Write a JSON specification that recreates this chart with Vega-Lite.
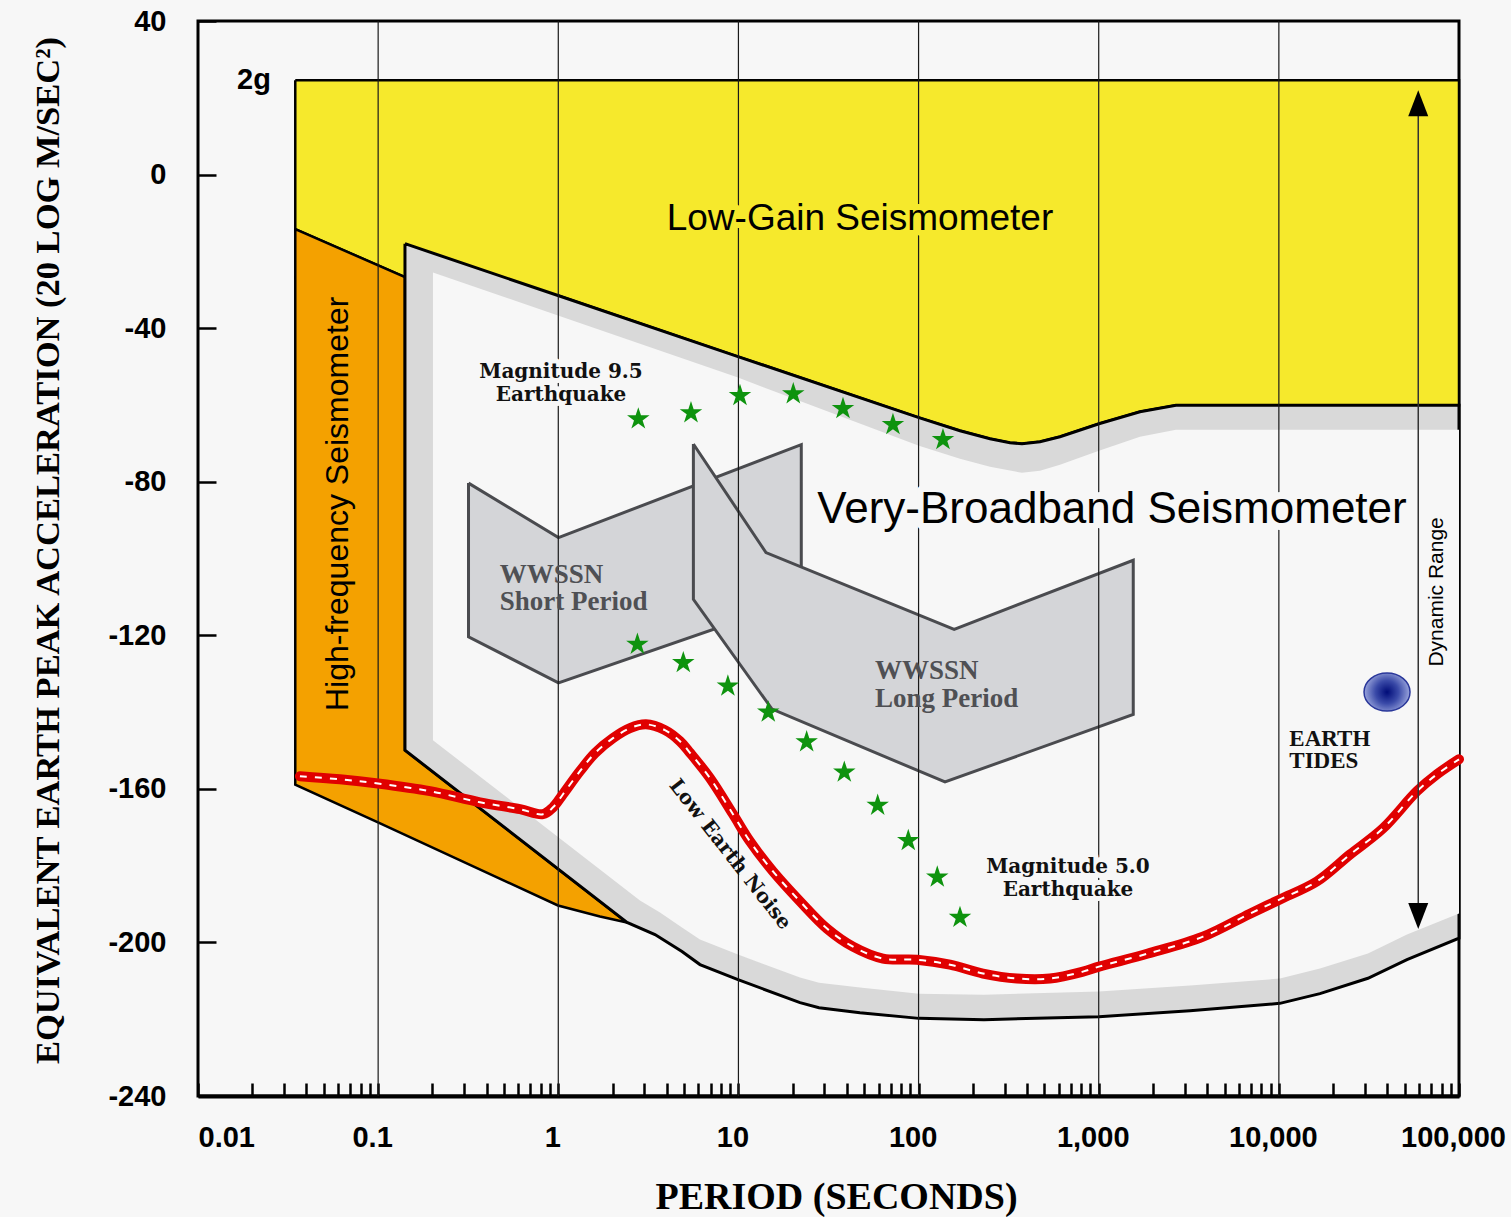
{
"$schema": "https://vega.github.io/schema/vega-lite/v6.json",
"width": 1261, "height": 1075,
"autosize": {"type": "none"},
"padding": {"left": 198, "top": 21, "right": 52, "bottom": 121},
"background": "#f7f7f7",
"config": {"view": {"stroke": "black", "strokeWidth": 3, "fill": "#f7f7f7"}},
"datasets": {
"poly": [
{"s":"yellow","i":0,"x":0.03467,"y":24.6},{"s":"yellow","i":1,"x":100000,"y":24.6},{"s":"yellow","i":2,"x":100000,"y":-60.06},{"s":"yellow","i":3,"x":2685,"y":-60.06},{"s":"yellow","i":4,"x":1694,"y":-61.76},{"s":"yellow","i":5,"x":1003,"y":-64.89},{"s":"yellow","i":6,"x":609.5,"y":-68.28},{"s":"yellow","i":7,"x":472.1,"y":-69.58},{"s":"yellow","i":8,"x":375,"y":-70.1},{"s":"yellow","i":9,"x":321.7,"y":-69.84},{"s":"yellow","i":10,"x":249.2,"y":-68.8},{"s":"yellow","i":11,"x":169.8,"y":-66.71},{"s":"yellow","i":12,"x":100.5,"y":-63.32},{"s":"yellow","i":13,"x":9.945,"y":-47.41},{"s":"yellow","i":14,"x":0.9963,"y":-31.49},{"s":"yellow","i":15,"x":0.1409,"y":-26.72},{"s":"yellow","i":16,"x":0.03467,"y":-14.19},{"s":"yellow","i":17,"x":0.03467,"y":24.6},
{"s":"orange","i":0,"x":0.03467,"y":-14.19},{"s":"orange","i":1,"x":0.1409,"y":-26.72},{"s":"orange","i":2,"x":0.1409,"y":-149.94},{"s":"orange","i":3,"x":2.407,"y":-194.81},{"s":"orange","i":4,"x":1.704,"y":-193.24},{"s":"orange","i":5,"x":0.9963,"y":-190.38},{"s":"orange","i":6,"x":0.0998,"y":-168.72},{"s":"orange","i":7,"x":0.03467,"y":-158.89},{"s":"orange","i":8,"x":0.03467,"y":-14.19},
{"s":"vbb","i":0,"x":0.1409,"y":-18.0},{"s":"vbb","i":1,"x":0.9963,"y":-31.49},{"s":"vbb","i":2,"x":9.945,"y":-47.41},{"s":"vbb","i":3,"x":100.5,"y":-63.32},{"s":"vbb","i":4,"x":169.8,"y":-66.71},{"s":"vbb","i":5,"x":249.2,"y":-68.8},{"s":"vbb","i":6,"x":321.7,"y":-69.84},{"s":"vbb","i":7,"x":375,"y":-70.1},{"s":"vbb","i":8,"x":472.1,"y":-69.58},{"s":"vbb","i":9,"x":609.5,"y":-68.28},{"s":"vbb","i":10,"x":1003,"y":-64.89},{"s":"vbb","i":11,"x":1694,"y":-61.76},{"s":"vbb","i":12,"x":2685,"y":-60.06},{"s":"vbb","i":13,"x":100000,"y":-60.06},{"s":"vbb","i":14,"x":100000,"y":-198.9},{"s":"vbb","i":15,"x":51430,"y":-204.46},{"s":"vbb","i":16,"x":31230,"y":-209.34},{"s":"vbb","i":17,"x":16910,"y":-213.34},{"s":"vbb","i":18,"x":10140,"y":-215.87},{"s":"vbb","i":19,"x":3211,"y":-217.77},{"s":"vbb","i":20,"x":1003,"y":-219.34},{"s":"vbb","i":21,"x":230.7,"y":-220.12},{"s":"vbb","i":22,"x":100.5,"y":-219.78},{"s":"vbb","i":23,"x":47.29,"y":-218.29},{"s":"vbb","i":24,"x":28.01,"y":-216.99},{"s":"vbb","i":25,"x":21.97,"y":-215.68},{"s":"vbb","i":26,"x":9.945,"y":-209.69},{"s":"vbb","i":27,"x":6.117,"y":-205.77},{"s":"vbb","i":28,"x":4.861,"y":-202.38},{"s":"vbb","i":29,"x":3.442,"y":-197.94},{"s":"vbb","i":30,"x":2.407,"y":-194.81},{"s":"vbb","i":31,"x":0.1409,"y":-149.94},{"s":"vbb","i":32,"x":0.1409,"y":-18.0},
{"s":"inner","i":0,"x":0.2015,"y":-25.49},{"s":"inner","i":1,"x":0.9963,"y":-36.71},{"s":"inner","i":2,"x":9.945,"y":-52.88},{"s":"inner","i":3,"x":100.5,"y":-70.62},{"s":"inner","i":4,"x":169.8,"y":-74.02},{"s":"inner","i":5,"x":249.2,"y":-76.1},{"s":"inner","i":6,"x":375,"y":-77.67},{"s":"inner","i":7,"x":472.1,"y":-77.15},{"s":"inner","i":8,"x":609.5,"y":-75.58},{"s":"inner","i":9,"x":1003,"y":-71.93},{"s":"inner","i":10,"x":1694,"y":-68.28},{"s":"inner","i":11,"x":2685,"y":-66.45},{"s":"inner","i":12,"x":100000,"y":-66.45},{"s":"inner","i":13,"x":100000,"y":-192.46},{"s":"inner","i":14,"x":51430,"y":-197.94},{"s":"inner","i":15,"x":31230,"y":-202.9},{"s":"inner","i":16,"x":16910,"y":-206.81},{"s":"inner","i":17,"x":10140,"y":-209.42},{"s":"inner","i":18,"x":3211,"y":-211.25},{"s":"inner","i":19,"x":1003,"y":-212.81},{"s":"inner","i":20,"x":230.7,"y":-213.6},{"s":"inner","i":21,"x":100.5,"y":-213.34},{"s":"inner","i":22,"x":47.29,"y":-211.77},{"s":"inner","i":23,"x":28.01,"y":-210.47},{"s":"inner","i":24,"x":21.97,"y":-209.16},{"s":"inner","i":25,"x":9.945,"y":-203.16},{"s":"inner","i":26,"x":6.117,"y":-199.25},{"s":"inner","i":27,"x":4.861,"y":-196.12},{"s":"inner","i":28,"x":3.67,"y":-192.2},{"s":"inner","i":29,"x":2.841,"y":-189.07},{"s":"inner","i":30,"x":0.2015,"y":-147.33},{"s":"inner","i":31,"x":0.2015,"y":-25.49},
{"s":"short","i":0,"x":0.3174,"y":-80.36},{"s":"short","i":1,"x":1.0025,"y":-94.55},{"s":"short","i":2,"x":22.33,"y":-70.36},{"s":"short","i":3,"x":22.33,"y":-110.54},{"s":"short","i":4,"x":1.0025,"y":-132.38},{"s":"short","i":5,"x":0.3174,"y":-120.38},{"s":"short","i":6,"x":0.3174,"y":-80.36},
{"s":"long","i":0,"x":5.623,"y":-70.18},{"s":"long","i":1,"x":14.22,"y":-98.46},{"s":"long","i":2,"x":157.6,"y":-118.45},{"s":"long","i":3,"x":1555,"y":-100.45},{"s":"long","i":4,"x":1555,"y":-140.62},{"s":"long","i":5,"x":140.2,"y":-158.21},{"s":"long","i":6,"x":15.36,"y":-139.24},{"s":"long","i":7,"x":5.623,"y":-110.62},{"s":"long","i":8,"x":5.623,"y":-70.18}
],
"noise": [
{"x":0.0368,"y":-156.7},{"x":0.0614,"y":-157.5},{"x":0.0998,"y":-158.6},{"x":0.194,"y":-160.6},{"x":0.3675,"y":-163.5},{"x":0.613,"y":-165.3},{"x":0.822,"y":-166.6},{"x":0.935,"y":-164.8},{"x":1.062,"y":-161.4},{"x":1.319,"y":-155.4},{"x":1.599,"y":-150.7},{"x":2.012,"y":-146.8},{"x":2.5,"y":-144.2},{"x":3.068,"y":-143.2},{"x":3.91,"y":-144.7},{"x":4.738,"y":-147.6},{"x":5.384,"y":-150.6},{"x":6.953,"y":-157.2},{"x":9.329,"y":-166.6},{"x":11.59,"y":-173.7},{"x":15.55,"y":-181.5},{"x":21.97,"y":-189.3},{"x":31.02,"y":-196.4},{"x":43.23,"y":-201.1},{"x":63.45,"y":-204.2},{"x":97.99,"y":-204.5},{"x":149.4,"y":-205.8},{"x":227.8,"y":-208.1},{"x":351.8,"y":-209.4},{"x":536.3,"y":-209.4},{"x":817.6,"y":-207.6},{"x":1003,"y":-206.3},{"x":1877,"y":-202.9},{"x":3792,"y":-198.5},{"x":6914,"y":-192.5},{"x":10140,"y":-188.8},{"x":16280,"y":-184.1},{"x":24820,"y":-177.1},{"x":37840,"y":-170.3},{"x":58440,"y":-160.6},{"x":75480,"y":-156.2},{"x":100000,"y":-152.3}
],
"stars": [
{"x":2.781,"y":-63.66},{"x":5.453,"y":-62.09},{"x":10.2,"y":-57.58},{"x":20.16,"y":-57.14},{"x":38.06,"y":-60.97},{"x":72.07,"y":-65.14},{"x":136.6,"y":-69.06},
{"x":2.749,"y":-122.36},{"x":4.943,"y":-127.16},{"x":8.739,"y":-133.24},{"x":14.64,"y":-140.02},{"x":23.92,"y":-147.77},{"x":38.7,"y":-155.68},{"x":59.29,"y":-164.29},{"x":87.68,"y":-173.49},{"x":127.0,"y":-182.99},{"x":169.8,"y":-193.51}
],
"mag": [
{"t":"Magnitude 9.5\nEarthquake","x":1.035,"y":-52.96},
{"t":"Magnitude 5.0\nEarthquake","x":675,"y":-181.95}
],
"lowgain": [{"t":"Low-Gain Seismometer","x":47.29,"y":-14.4}],
"vbbtext": [{"t":"Very-Broadband Seismometer","x":1185,"y":-90.71}]
},
"encoding": {
"x": {"field": "x", "type": "quantitative",
 "scale": {"type": "log", "domain": [0.01, 100000], "nice": false},
 "axis": {
  "title": "PERIOD (SECONDS)", "titleFont": "Liberation Serif", "titleFontSize": 38, "titleFontWeight": "bold", "titleColor": "black",
  "titleX": 638, "titleY": 112, "titleAlign": "center", "titleBaseline": "alphabetic",
  "values": [0.01,0.02,0.03,0.04,0.05,0.06,0.07,0.08,0.09,0.1,0.2,0.3,0.4,0.5,0.6,0.7,0.8,0.9,1,2,3,4,5,6,7,8,9,10,20,30,40,50,60,70,80,90,100,200,300,400,500,600,700,800,900,1000,2000,3000,4000,5000,6000,7000,8000,9000,10000,20000,30000,40000,50000,60000,70000,80000,90000,100000],
  "labelExpr": "abs(log(datum.value)/LN10 - round(log(datum.value)/LN10)) < 0.01 ? format(datum.value, ',') : ''",
  "labelFont": "Liberation Sans", "labelFontSize": 29, "labelFontWeight": "bold", "labelColor": "black",
  "labelBaseline": "alphabetic", "labelPadding": 63, "labelFlush": false, "labelOverlap": false,
  "labelAlign": {"condition": {"test": "datum.value < 0.015", "value": "left"}, "value": "center"},
  "labelOffset": {"condition": {"test": "datum.value < 0.015", "value": 0}, "value": -6},
  "tickSize": -13, "tickWidth": 2.5, "tickColor": "black",
  "domain": true, "domainColor": "black", "domainWidth": 4, "grid": false
 }},
"y": {"field": "y", "type": "quantitative",
 "scale": {"domain": [-240, 40], "nice": false, "zero": false},
 "axis": {
  "title": "EQUIVALENT EARTH PEAK ACCELERATION (20 LOG M/SEC²)", "titleFont": "Liberation Serif", "titleFontSize": 34.5, "titleFontWeight": "bold", "titleColor": "black",
  "titleAngle": 270, "titleX": -150, "titleY": 529, "titleAlign": "center", "titleBaseline": "middle",
  "values": [40,0,-40,-80,-120,-160,-200,-240],
  "labelExpr": "datum.value + ''",
  "labelFont": "Liberation Sans", "labelFontSize": 29, "labelFontWeight": "bold", "labelColor": "black",
  "labelPadding": 50, "labelAlign": "right", "labelBaseline": "middle", "labelOverlap": false,
  "tickSize": -18, "tickWidth": 2.5, "tickColor": "black", "domain": false, "grid": false
 }}
},
"layer": [
{"data": {"name": "poly"}, "transform": [{"filter": "datum.s == 'yellow'"}],
 "mark": {"type": "line", "fill": "#f6e92c", "stroke": "black", "strokeWidth": 2.5},
 "encoding": {"order": {"field": "i", "type": "quantitative"}}},
{"data": {"name": "poly"}, "transform": [{"filter": "datum.s == 'orange'"}],
 "mark": {"type": "line", "fill": "#f4a100", "stroke": "black", "strokeWidth": 2.5},
 "encoding": {"order": {"field": "i", "type": "quantitative"}}},
{"data": {"name": "poly"}, "transform": [{"filter": "datum.s == 'vbb'"}],
 "mark": {"type": "line", "fill": "#d9d9d9", "stroke": "black", "strokeWidth": 3},
 "encoding": {"order": {"field": "i", "type": "quantitative"}}},
{"data": {"name": "poly"}, "transform": [{"filter": "datum.s == 'inner'"}],
 "mark": {"type": "line", "fill": "#f7f7f7", "strokeWidth": 0},
 "encoding": {"order": {"field": "i", "type": "quantitative"}}},
{"data": {"name": "poly"}, "transform": [{"filter": "datum.s == 'short'"}],
 "mark": {"type": "line", "fill": "#d4d5d8", "stroke": "#4a4b4f", "strokeWidth": 3},
 "encoding": {"order": {"field": "i", "type": "quantitative"}}},
{"data": {"name": "poly"}, "transform": [{"filter": "datum.s == 'long'"}],
 "mark": {"type": "line", "fill": "#d4d5d8", "stroke": "#4a4b4f", "strokeWidth": 3},
 "encoding": {"order": {"field": "i", "type": "quantitative"}}},
{"data": {"values": [{"x":0.1,"y":40,"y2":-240},{"x":1,"y":40,"y2":-240},{"x":10,"y":40,"y2":-240},{"x":100,"y":40,"y2":-240},{"x":1000,"y":40,"y2":-240},{"x":10000,"y":40,"y2":-240}]},
 "mark": {"type": "rule", "stroke": "#1a1a1a", "strokeWidth": 1.2},
 "encoding": {"y2": {"field": "y2"}}},
{"data": {"name": "stars"},
 "mark": {"type": "point", "shape": "M0,-1L0.2245,-0.309L0.951,-0.309L0.363,0.118L0.588,0.809L0,0.382L-0.588,0.809L-0.363,0.118L-0.951,-0.309L-0.2245,-0.309Z", "size": 560, "filled": true, "fill": "#0e930e", "strokeWidth": 0, "opacity": 1}},
{"data": {"name": "noise"},
 "mark": {"type": "line", "stroke": "#e00000", "strokeWidth": 10, "strokeCap": "round", "interpolate": "catmull-rom"}},
{"data": {"name": "noise"},
 "mark": {"type": "line", "stroke": "white", "strokeWidth": 2, "strokeDash": [7, 8], "interpolate": "catmull-rom"}},
{"data": {"values": [{"x": 39850, "y": -134.8}]},
 "mark": {"type": "point", "shape": "M-1,0A1,0.826,0,1,1,1,0A1,0.826,0,1,1,-1,0Z", "size": 2116, "filled": true,
  "fill": {"gradient": "radial", "stops": [{"offset": 0, "color": "#000c78"}, {"offset": 0.5, "color": "#3a4aa8"}, {"offset": 1, "color": "#9aa5dc"}]},
  "stroke": "#2a379a", "strokeWidth": 1.5, "opacity": 1}},
{"data": {"values": [{"x": 59400, "y": 18.6, "y2": -193.1}]},
 "mark": {"type": "rule", "stroke": "#333333", "strokeWidth": 1.5},
 "encoding": {"y2": {"field": "y2"}}},
{"data": {"values": [{"x": 59400, "y": 18.6}]},
 "mark": {"type": "point", "shape": "M0,-1L0.77,1L-0.77,1Z", "size": 676, "filled": true, "fill": "black", "strokeWidth": 0, "opacity": 1}},
{"data": {"values": [{"x": 59400, "y": -193.1}]},
 "mark": {"type": "point", "shape": "M0,1L0.77,-1L-0.77,-1Z", "size": 676, "filled": true, "fill": "black", "strokeWidth": 0, "opacity": 1}},
{"data": {"name": "lowgain"},
 "mark": {"type": "text", "font": "Liberation Sans", "fontSize": 37, "align": "center", "baseline": "alphabetic", "fill": "#f6e92c", "stroke": "#f6e92c", "strokeWidth": 12, "strokeJoin": "round"},
 "encoding": {"text": {"field": "t"}}},
{"data": {"name": "lowgain"},
 "mark": {"type": "text", "font": "Liberation Sans", "fontSize": 37, "align": "center", "baseline": "alphabetic", "fill": "black"},
 "encoding": {"text": {"field": "t"}}},
{"data": {"name": "vbbtext"},
 "mark": {"type": "text", "font": "Liberation Sans", "fontSize": 44, "align": "center", "baseline": "alphabetic", "fill": "#f7f7f7", "stroke": "#f7f7f7", "strokeWidth": 14, "strokeJoin": "round"},
 "encoding": {"text": {"field": "t"}}},
{"data": {"name": "vbbtext"},
 "mark": {"type": "text", "font": "Liberation Sans", "fontSize": 44, "align": "center", "baseline": "alphabetic", "fill": "black"},
 "encoding": {"text": {"field": "t"}}},
{"data": {"name": "mag"},
 "mark": {"type": "text", "font": "DejaVu Serif", "fontSize": 20, "fontWeight": "bold", "align": "center", "baseline": "alphabetic", "lineBreak": "\n", "lineHeight": 23, "fill": "#f7f7f7", "stroke": "#f7f7f7", "strokeWidth": 10, "strokeJoin": "round"},
 "encoding": {"text": {"field": "t"}}},
{"data": {"name": "mag"},
 "mark": {"type": "text", "font": "DejaVu Serif", "fontSize": 20, "fontWeight": "bold", "align": "center", "baseline": "alphabetic", "lineBreak": "\n", "lineHeight": 23, "fill": "#111111"},
 "encoding": {"text": {"field": "t"}}},
{"data": {"values": [{"t": "2g", "x": 0.02047, "y": 22.18}]},
 "mark": {"type": "text", "font": "Liberation Sans", "fontSize": 29, "fontWeight": "bold", "align": "center", "baseline": "alphabetic", "fill": "black"},
 "encoding": {"text": {"field": "t"}}},
{"data": {"values": [{"t": "High-frequency Seismometer", "x": 0.05985, "y": -85.76}]},
 "mark": {"type": "text", "font": "Liberation Sans", "fontSize": 32, "angle": 270, "align": "center", "baseline": "middle", "fill": "black"},
 "encoding": {"text": {"field": "t"}}},
{"data": {"values": [{"t": "Dynamic Range", "x": 75480, "y": -108.7}]},
 "mark": {"type": "text", "font": "Liberation Sans", "fontSize": 21, "angle": 270, "align": "center", "baseline": "middle", "fill": "black"},
 "encoding": {"text": {"field": "t"}}},
{"data": {"values": [{"t": "WWSSN\nShort Period", "x": 0.4728, "y": -106.29}, {"t": "WWSSN\nLong Period", "x": 57.28, "y": -131.49}]},
 "mark": {"type": "text", "font": "Liberation Serif", "fontSize": 27, "fontWeight": "bold", "align": "left", "baseline": "alphabetic", "lineBreak": "\n", "lineHeight": 27.5, "fill": "#4f5054"},
 "encoding": {"text": {"field": "t"}}},
{"data": {"values": [{"t": "EARTH\nTIDES", "x": 11430, "y": -148.89}]},
 "mark": {"type": "text", "font": "Liberation Serif", "fontSize": 23, "fontWeight": "bold", "align": "left", "baseline": "alphabetic", "lineBreak": "\n", "lineHeight": 22, "fill": "#111111"},
 "encoding": {"text": {"field": "t"}}},
{"data": {"values": [{"t": "Low Earth Noise", "x": 8.977, "y": -177.07}]},
 "mark": {"type": "text", "font": "DejaVu Serif", "fontSize": 20, "fontWeight": "bold", "angle": 52, "align": "center", "baseline": "middle", "fill": "#111111"},
 "encoding": {"text": {"field": "t"}}}
]
}
